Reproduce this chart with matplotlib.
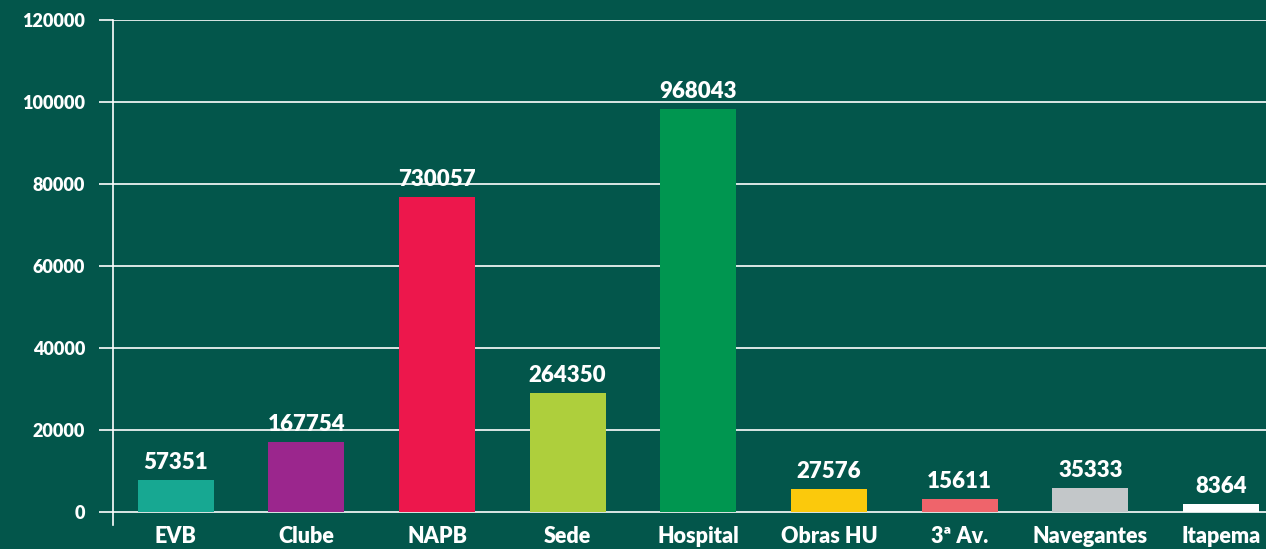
import matplotlib
matplotlib.use("Agg")
import matplotlib.pyplot as plt

plt.rcParams["font.family"] = ["Lato", "DejaVu Sans"]
plt.rcParams["font.weight"] = "heavy"

categories = ["EVB", "Clube", "NAPB", "Sede", "Hospital", "Obras HU", "3ª Av.", "Navegantes", "Itapema"]
bar_heights = [7800, 17100, 76800, 29000, 98300, 5600, 3200, 5900, 2000]
value_labels = ["57351", "167754", "730057", "264350", "968043", "27576", "15611", "35333", "8364"]
colors = ["#17a892", "#9b268d", "#ed174c", "#aecf3c", "#009650",
          "#fbc90c", "#ef646b", "#c3c7c9", "#ffffff"]

bg = "#03564b"

fig = plt.figure(figsize=(12.66, 5.49), dpi=100, facecolor=bg)
ax = fig.add_axes([113 / 1266, 1 - 525 / 549, 1 - 113 / 1266, (525 - 20) / 549])
ax.set_facecolor(bg)

x = list(range(len(categories)))
bars = ax.bar(x, bar_heights, width=0.58, color=colors, zorder=3)

for rect, lab in zip(bars, value_labels):
    ax.annotate(lab, (rect.get_x() + rect.get_width() / 2, rect.get_height()),
                xytext=(0, 5), textcoords="offset points", ha="center", va="bottom",
                color="white", fontsize=16, fontweight="heavy", zorder=4)

ax.set_xlim(-0.48, 8.345)
ax.set_ylim(-3200, 120000)
ax.set_yticks(range(0, 120001, 20000))
ax.set_xticks(x)
ax.set_xticklabels(categories)

ax.grid(axis="y", color="white", linewidth=1.2, zorder=1)
ax.tick_params(axis="y", colors="white", length=10, width=1.2, pad=10, labelsize=13)
ax.tick_params(axis="x", length=0, pad=1, labelsize=15.5, labelcolor="white")
for t in ax.get_yticklabels() + ax.get_xticklabels():
    t.set_fontweight("heavy")

for s in ["top", "right", "bottom"]:
    ax.spines[s].set_visible(False)
ax.spines["left"].set_color("white")
ax.spines["left"].set_linewidth(1.2)

fig.savefig("out.png", dpi=100, facecolor=bg)
